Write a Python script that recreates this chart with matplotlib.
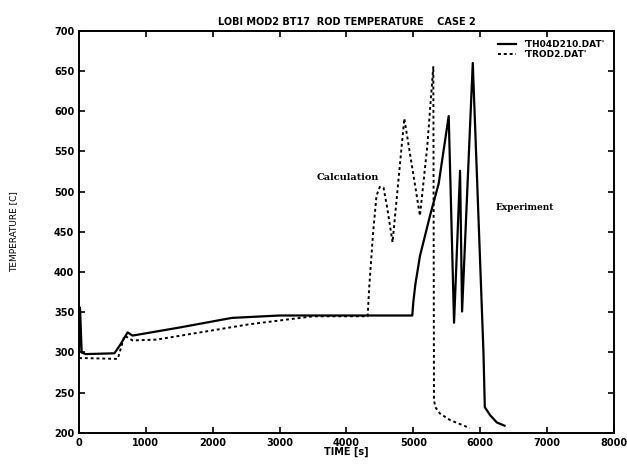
import numpy as np
import matplotlib
matplotlib.use("Agg")
import matplotlib.pyplot as plt

# Experiment (solid) - TH04D210.DAT
exp_t = [0, 15, 40, 100, 530, 620, 727, 800, 1500, 2285, 3000, 4000, 4985,
         5000, 5030, 5100, 5250, 5380, 5530, 5610, 5700, 5730, 5890, 6050,
         6070, 6150, 6250, 6365]
exp_T = [300, 356, 300, 298, 299, 310, 325, 321, 331, 343, 346, 346, 346,
         362, 384, 420, 470, 510, 594, 337, 526, 351, 660, 300,
         232, 222, 213, 209]

# Calculation (dotted) - TROD2.DAT
calc_t = [0, 100, 580, 680, 800, 1160, 2540, 3500, 4318, 4340, 4400, 4450,
          4500, 4555, 4610, 4690, 4866, 5100, 5210, 5300, 5310, 5330, 5400,
          5550, 5845]
calc_T = [293, 293, 292, 321, 315, 316, 335, 345, 345, 380, 450, 495,
          506, 505, 480, 437, 591, 470, 557, 656, 241, 232, 224, 216, 206]

xticks = np.arange(0, 8001, 1000)
yticks = np.arange(200, 701, 50)

fig = plt.figure(figsize=(6.27, 4.67), dpi=100)
ax = fig.add_axes([0.126, 0.073, 0.853, 0.861])

ax.plot(exp_t, exp_T, color="black", lw=1.6, label="'TH04D210.DAT'")
ax.plot(calc_t, calc_T, color="black", lw=1.4, ls=(0, (1.5, 1.5)), label="'TROD2.DAT'")

ax.set_xlim(0, 8000)
ax.set_ylim(200, 700)
ax.set_xticks(xticks)
ax.set_yticks(yticks)
ax.tick_params(direction="in", top=True, right=True, length=4, width=1.2,
               labelsize=7)
for lbl in ax.get_xticklabels() + ax.get_yticklabels():
    lbl.set_fontweight("bold")
for s in ax.spines.values():
    s.set_linewidth(1.4)

ax.set_title("LOBI MOD2 BT17  ROD TEMPERATURE    CASE 2", fontsize=7,
             fontweight="bold", pad=4)
ax.set_xlabel("TIME [s]", fontsize=7, fontweight="bold", labelpad=-1)
ax.set_ylabel("TEMPERATURE [C]", fontsize=6.5, labelpad=26)

ax.text(3550, 515, "Calculation", fontsize=7, fontweight="bold", family="serif")
ax.text(6230, 477, "Experiment", fontsize=6.5, fontweight="bold", family="serif")

leg = ax.legend(loc="upper right", frameon=False, fontsize=6.5, handlelength=2,
                borderaxespad=0.6, labelspacing=0.1)
for t in leg.get_texts():
    t.set_fontweight("bold")
leg._legend_box.align = "right"

fig.savefig("out.png", dpi=100)
